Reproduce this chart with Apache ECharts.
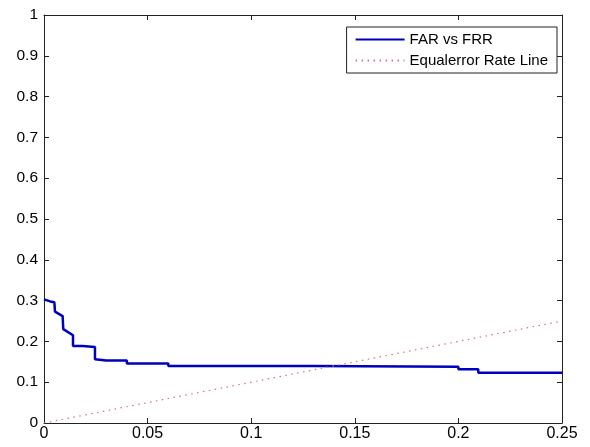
<!DOCTYPE html>
<html><head><meta charset="utf-8">
<script src="https://cdn.jsdelivr.net/npm/echarts@6/dist/echarts.min.js"></script>
<style>html,body{margin:0;padding:0;background:#fff}#c{width:590px;height:447px}</style>
</head><body><div id="c"></div>
<script>
const far = [0, 0.003, 0.005, 0.0053, 0.009, 0.0093, 0.0140, 0.0140, 0.0186, 0.0186, 0.0246, 0.0246, 0.030, 0.040, 0.040, 0.060, 0.060, 0.130, 0.130, 0.200, 0.200, 0.2096, 0.2096, 0.25];
const frr = [0.303, 0.298, 0.296, 0.273, 0.262, 0.230, 0.215, 0.189, 0.189, 0.186, 0.186, 0.156, 0.153, 0.153, 0.146, 0.146, 0.140, 0.140, 0.138, 0.138, 0.132, 0.132, 0.123, 0.123];
const eerX = [0, 0.25];
const eerY = [0, 0.25];
const xTicks = [0, 0.05, 0.1, 0.15, 0.2, 0.25];
const yTicks = [0, 0.1, 0.2, 0.3, 0.4, 0.5, 0.6, 0.7, 0.8, 0.9, 1];

const font = 'Liberation Sans, Arial, sans-serif';
const chart = echarts.init(document.getElementById('c'));
const tickStyle = {show: true, inside: true, length: 5, lineStyle: {color: '#222', width: 1}};
const lineStyle = {color: '#222', width: 1};
const axisLine = {show: true, onZero: false, lineStyle};
const fmt = list => v => { const t = list.find(x => Math.abs(x - v) < 1e-9); return t === undefined ? '' : String(t); };
chart.setOption({
  animation: false,
  grid: {left: 44, right: 28, top: 15, bottom: 24},
  legend: {
    right: 33, top: 27, orient: 'vertical', align: 'left',
    borderColor: '#222', borderWidth: 1, padding: [5, 9, 5, 8], itemGap: 6,
    itemWidth: 49, itemHeight: 14,
    itemStyle: {opacity: 0},
    textStyle: {fontFamily: font, fontSize: 15, color: '#000'},
    backgroundColor: '#fff',
    data: ['FAR vs FRR', 'Equalerror Rate Line']
  },
  xAxis: [{
    type: 'value', min: 0, max: 0.25, interval: 0.05, position: 'bottom',
    axisLine, axisTick: tickStyle, splitLine: {show: false},
    axisLabel: {fontFamily: font, fontSize: 16, color: '#000', margin: 3, formatter: fmt(xTicks)}
  }, {
    type: 'value', min: 0, max: 0.25, interval: 0.05, position: 'top',
    axisLine, axisTick: tickStyle, axisLabel: {show: false}, splitLine: {show: false}
  }],
  yAxis: [{
    type: 'value', min: 0, max: 1, interval: 0.1, position: 'left',
    axisLine, axisTick: tickStyle, splitLine: {show: false},
    axisLabel: {fontFamily: font, fontSize: 15.5, color: '#000', margin: 6, formatter: fmt(yTicks)}
  }, {
    type: 'value', min: 0, max: 1, interval: 0.1, position: 'right',
    axisLine, axisTick: tickStyle, axisLabel: {show: false}, splitLine: {show: false}
  }],
  series: [{
    name: 'FAR vs FRR', type: 'line', symbol: 'none', xAxisIndex: 0, yAxisIndex: 0,
    lineStyle: {color: '#0000c0', width: 2.5}, itemStyle: {color: '#0000c0'},
    data: far.map((x, i) => [x, frr[i]])
  }, {
    name: 'Equalerror Rate Line', type: 'line', symbol: 'none', xAxisIndex: 0, yAxisIndex: 0,
    lineStyle: {color: '#d9707f', width: 1.2, type: [1.5, 4.5]}, itemStyle: {color: '#d9707f'},
    data: eerX.map((x, i) => [x, eerY[i]])
  }]
});
</script></body></html>
